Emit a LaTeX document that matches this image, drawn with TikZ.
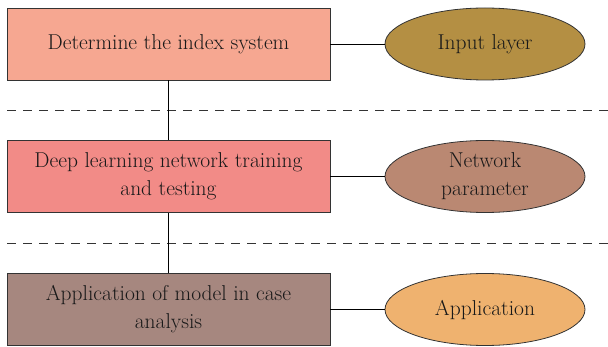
\documentclass[tikz,border=0pt]{standalone}
\usepackage{fontspec}
\usetikzlibrary{shapes.geometric}

\definecolor{stepone}{HTML}{F6A791}
\definecolor{steptwo}{HTML}{F28B87}
\definecolor{stepthree}{HTML}{A6877F}
\definecolor{layerone}{HTML}{B48F43}
\definecolor{layertwo}{HTML}{BA8872}
\definecolor{layerthree}{HTML}{EFB26F}

\begin{document}
\begin{tikzpicture}[x=1pt, y=-1pt,
  stage/.style={draw=black!80, line width=0.9pt, minimum width=323pt, minimum height=72pt,
    align=center, inner sep=0pt, text=black!90, font=\fontsize{21.5}{28}\selectfont},
  layer/.style={ellipse, draw=black!80, line width=0.8pt, minimum width=200pt, minimum height=72pt,
    align=center, inner sep=0pt, text=black!90, font=\fontsize{21.5}{28}\selectfont},
  sep/.style={dashed, dash pattern=on 9pt off 7pt, line width=0.8pt, black!80}]

\useasboundingbox (0,0) rectangle (608,347);

% stages
\node[stage, fill=stepone] (index) at (168.5,44) {Determine the index system};
\node[stage, fill=steptwo] (train) at (168.5,176.5) {Deep learning network training\\and testing};
\node[stage, fill=stepthree] (apply) at (168.5,309.5) {Application of model in case\\analysis};

% layers
\node[layer, fill=layerone] (input) at (485,44) {Input layer};
\node[layer, fill=layertwo] (param) at (485,176.5) {Network\\parameter};
\node[layer, fill=layerthree] (appl) at (485,309.5) {Application};

% separators
\coordinate (s1a) at (7,110);
\coordinate (s1b) at (608,110);
\coordinate (s2a) at (7,243);
\coordinate (s2b) at (608,243);
\draw[sep] (s1a) -- (s1b);
\draw[sep] (s2a) -- (s2b);

% links
\draw[line width=0.8pt] (index) -- (train);
\draw[line width=0.8pt] (train) -- (apply);
\foreach \s/\l in {index/input, train/param, apply/appl} {
  \draw[line width=0.8pt] (\s.east) -- (\l.west);
}

\end{tikzpicture}
\end{document}
